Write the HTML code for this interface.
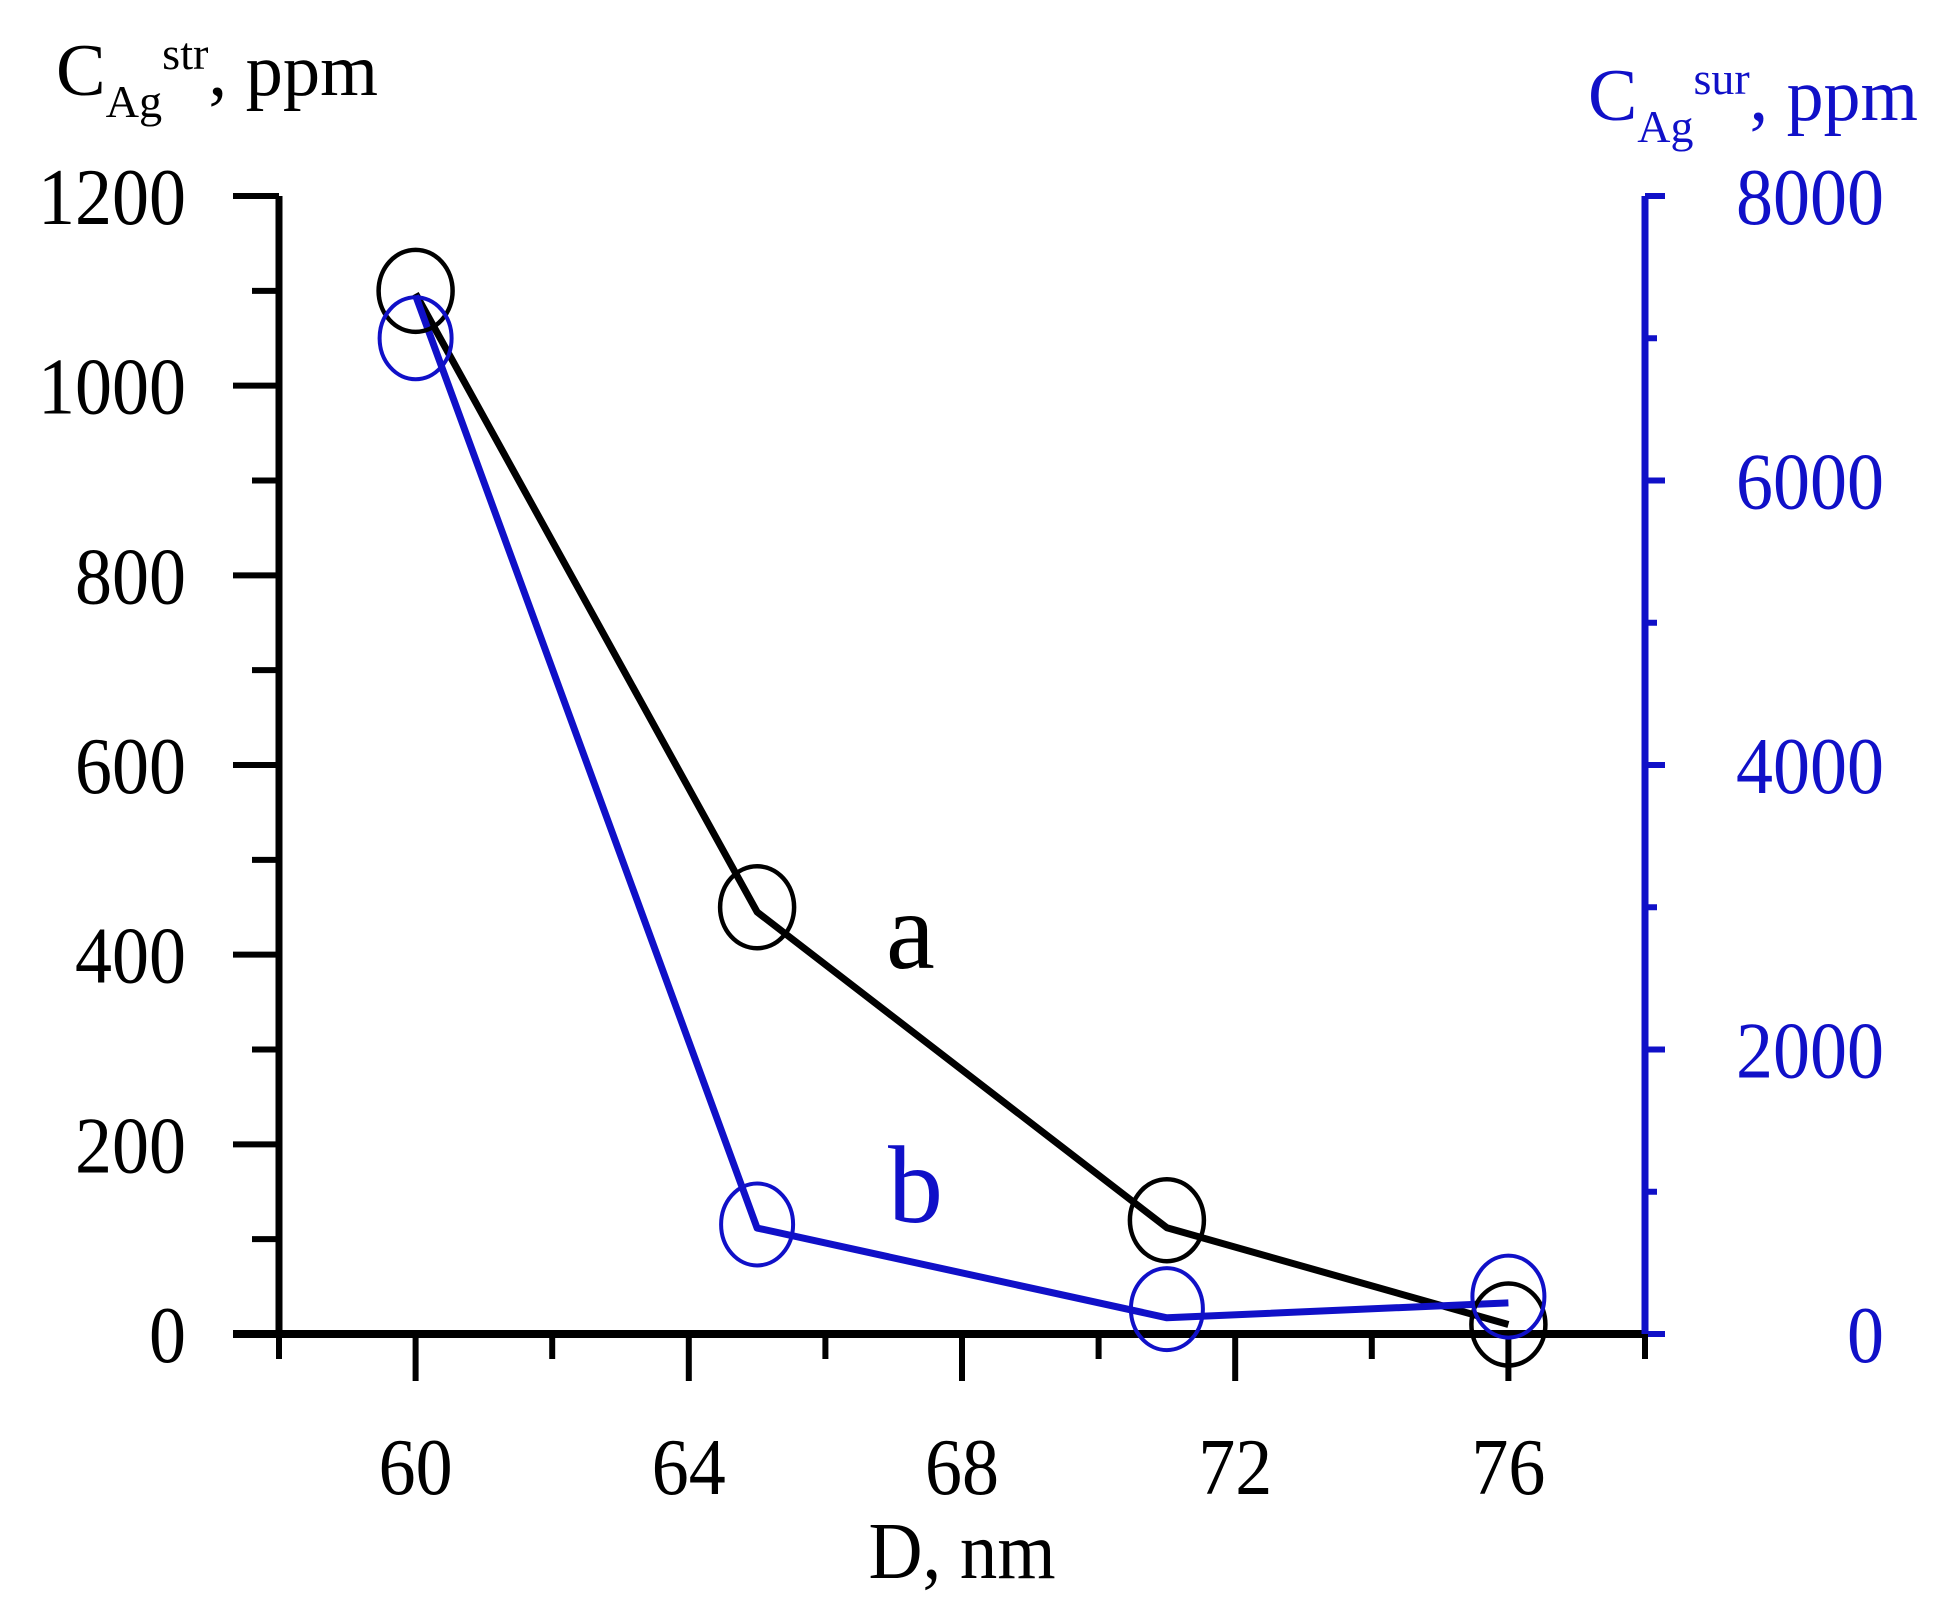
<!DOCTYPE html>
<html><head><meta charset="utf-8"><style>
html,body{margin:0;padding:0;background:#fff}
svg{display:block;font-family:"Liberation Serif",serif}
</style></head><body>
<svg id="chart" width="1954" height="1623" viewBox="0 0 1954 1623" xmlns="http://www.w3.org/2000/svg">
<g id="axes"></g><g id="series"></g>
<text x="56" y="95" font-size="74" fill="#000" textLength="322" lengthAdjust="spacingAndGlyphs">C<tspan font-size="46" dy="22">Ag</tspan><tspan font-size="46" dy="-48">str</tspan><tspan dy="26">, ppm</tspan></text>
<text x="1588" y="120" font-size="74" fill="#1010c8" textLength="330" lengthAdjust="spacingAndGlyphs">C<tspan font-size="46" dy="22">Ag</tspan><tspan font-size="46" dy="-48">sur</tspan><tspan dy="26">, ppm</tspan></text>
<text x="962" y="1578" font-size="80" text-anchor="middle" fill="#000" textLength="187" lengthAdjust="spacingAndGlyphs">D, nm</text>
<text x="886" y="968" font-size="110" fill="#000">a</text>
<text x="888" y="1222" font-size="110" fill="#1010c8">b</text>
</svg>
<script>
const xVals=[60,65,71,76];
const aLine=[1097,445,112,10];
const aMarks=[1100,450,120,10];
const bLine=[7300,745,114,219];
const bMarks=[7000,770,175,263];
const xTicks=[60,64,68,72,76];
const yTicks=[0,200,400,600,800,1000,1200];
const y2Ticks=[0,2000,4000,6000,8000];
const NS="http://www.w3.org/2000/svg";
const X=v=>279+(v-58)*68.3;
const Y=v=>1334-v*1138/1200;
const Y2=v=>1334-v*1138/8000;
const BLUE="#1010c8";
function mk(t,a,p){const e=document.createElementNS(NS,t);for(const k in a)e.setAttribute(k,a[k]);p.appendChild(e);return e;}
const ax=document.getElementById('axes'),se=document.getElementById('series');
let e;
const xR=X(78), xL=X(58);
e=mk('line',{x1:xL,y1:Y(1200),x2:xL,y2:1334,stroke:'#000','stroke-width':7},ax);

e=mk('line',{x1:xL-46,y1:1334,x2:xR,y2:1334,stroke:'#000','stroke-width':8},ax);

e=mk('line',{x1:xR,y1:Y2(8000),x2:xR,y2:1334,stroke:BLUE,'stroke-width':7},ax);

for(let v=0;v<=1200;v+=100){const maj=v%200===0;
 e=mk('line',{x1:maj?xL-46:xL-27,y1:Y(v),x2:xL,y2:Y(v),stroke:'#000','stroke-width':6},ax);
 }
yTicks.forEach(v=>{const s=String(v);e=mk('text',{x:186,y:Y(v)+28,'font-size':80,'text-anchor':'end',fill:'#000',textLength:s.length*37,lengthAdjust:'spacingAndGlyphs'},ax);e.textContent=s;
 });
for(let v=0;v<=8000;v+=1000){const maj=v%2000===0;
 e=mk('line',{x1:xR,y1:Y2(v),x2:maj?xR+20:xR+12,y2:Y2(v),stroke:BLUE,'stroke-width':6},ax);
 }
y2Ticks.forEach(v=>{const s=String(v);e=mk('text',{x:1884,y:Y2(v)+28,'font-size':80,'text-anchor':'end',fill:BLUE,textLength:s.length*37,lengthAdjust:'spacingAndGlyphs'},ax);e.textContent=s;
 });
for(let v=58;v<=78;v+=2){const maj=(v-60)%4===0&&v>=60&&v<=76;
 e=mk('line',{x1:X(v),y1:1334,x2:X(v),y2:maj?1381:1359,stroke:'#000','stroke-width':6},ax);
 }
xTicks.forEach(v=>{const s=String(v);e=mk('text',{x:X(v),y:1494,'font-size':80,'text-anchor':'middle',fill:'#000',textLength:s.length*37,lengthAdjust:'spacingAndGlyphs'},ax);e.textContent=s;
 });
e=mk('polyline',{points:xVals.map((x,i)=>X(x)+','+Y(aLine[i])).join(' '),fill:'none',stroke:'#000','stroke-width':7,'stroke-linejoin':'round'},se);

e=mk('polyline',{points:xVals.map((x,i)=>X(x)+','+Y2(bLine[i])).join(' '),fill:'none',stroke:BLUE,'stroke-width':7,'stroke-linejoin':'round'},se);

xVals.forEach((x,i)=>{
 e=mk('ellipse',{cx:X(x),cy:Y(aMarks[i]),rx:37,ry:41,fill:'none',stroke:'#000','stroke-width':4.5},se);
 
 e=mk('ellipse',{cx:X(x),cy:Y2(bMarks[i]),rx:36,ry:41,fill:'none',stroke:BLUE,'stroke-width':4},se);
 
});
</script>
</body></html>
